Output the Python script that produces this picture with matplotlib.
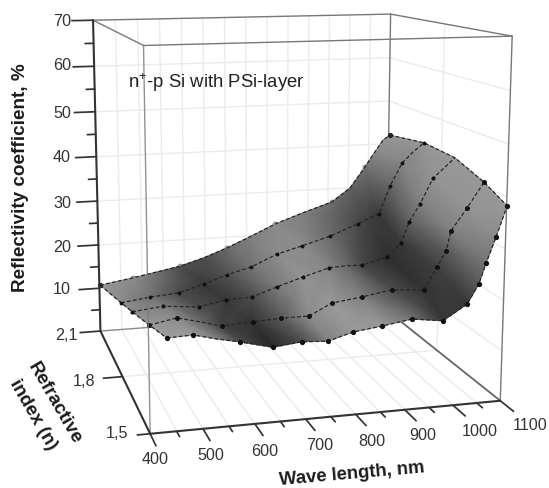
import numpy as np
import matplotlib
matplotlib.use('Agg')
import matplotlib.pyplot as plt

# ---- data -----------------------------------------------------------------
n_rows = [2.1, 1.95, 1.8, 1.65, 1.5]
wave_21 = [402, 479, 535, 590, 647, 703, 761, 819, 888, 960, 1005, 1042, 1056, 1069, 1086, 1103]
refl_21 = [10.7, 11.9, 12.9, 13.9, 15.5, 17.5, 19.9, 22.4, 24.7, 26.9, 30.0, 34.8, 36.8, 38.6, 40.9, 42.0]
wave_195 = [425, 489, 554, 611, 664, 719, 779, 837, 903, 969, 993, 1019, 1045, 1073, 1099, 1125]
refl_195 = [10.9, 11.7, 12.2, 13.8, 15.5, 16.9, 19.4, 20.9, 22.7, 25.1, 26.1, 27.1, 33.3, 38.3, 40.7, 42.6]
wave_18 = [423, 488, 564, 623, 679, 734, 791, 849, 885, 923, 980, 1011, 1029, 1053, 1082, 1131]
refl_18 = [13.5, 14.2, 13.5, 14.6, 14.8, 16.6, 18.3, 19.9, 20.1, 20.0, 21.4, 24.2, 28.7, 32.4, 37.8, 41.9]
wave_165 = [430, 485, 531, 576, 639, 697, 755, 803, 867, 931, 1000, 1028, 1047, 1056, 1090, 1126]
refl_165 = [15.4, 16.4, 15.3, 14.1, 14.5, 14.8, 14.8, 17.1, 17.9, 18.9, 18.4, 23.0, 26.1, 30.1, 34.6, 39.7]
wave_15 = [434, 483, 528, 572, 635, 692, 743, 793, 851, 911, 975, 1024, 1047, 1061, 1080, 1101]
refl_15 = [17.7, 17.9, 16.8, 15.9, 14.4, 15.0, 14.7, 16.1, 16.8, 17.7, 16.9, 19.8, 23.5, 27.5, 32.4, 38.3]
# surface brightness at every point, as seen in the picture
shade_21 = [.60, .55, .45, .30, .30, .42, .50, .55, .50, .42, .38, .45, .50, .55, .58, .60]
shade_195 = [.55, .45, .30, .22, .32, .45, .55, .55, .42, .28, .25, .22, .40, .52, .55, .60]
shade_18 = [.55, .50, .30, .22, .30, .48, .58, .52, .42, .28, .18, .22, .38, .50, .58, .60]
shade_165 = [.60, .55, .42, .25, .20, .35, .55, .60, .50, .30, .20, .25, .35, .50, .58, .60]
shade_15 = [.62, .60, .50, .30, .15, .30, .50, .60, .60, .45, .22, .22, .35, .45, .55, .60]

wave_ticks = [400, 500, 600, 700, 800, 900, 1000, 1100]
refl_ticks = [10, 20, 30, 40, 50, 60, 70]
refl_labels = ['10', '20', '30', '40', '50', '60', '70']
n_ticks = [2.1, 1.8, 1.5]
n_labels = ['2,1', '1,8', '1,5']
annotation = r'n$^{+}$-p Si with PSi-layer'
xlabel = 'Wave length, nm'
zlabel = 'Reflectivity coefficient, %'
ylabel = 'Refractive\nindex (n)'

# ---- perspective camera fitted to the box corners (figure pixels) ---------
W_MIN, W_MAX, N_MIN, N_MAX, Z_MIN, Z_MAX = 400, 1100, 1.5, 2.1, 0, 70
corners = [(400, 2.1, 0, 101, 333), (400, 2.1, 70, 93, 20), (400, 1.5, 0, 150, 432),
           (400, 1.5, 70, 143, 45), (1100, 1.5, 0, 502, 402), (1100, 1.5, 70, 511, 37),
           (1100, 2.1, 0, 384, 308), (1100, 2.1, 70, 392, 14)]


def unit(w, n, z):
    return (np.asarray(w, float) - W_MIN) / (W_MAX - W_MIN), \
           (np.asarray(n, float) - N_MIN) / (N_MAX - N_MIN), \
           (np.asarray(z, float) - Z_MIN) / (Z_MAX - Z_MIN)


rows_eq = []
for w, n, z, px, py in corners:
    X = [*unit(w, n, z), 1.0]
    rows_eq.append(X + [0] * 4 + [-px * a for a in X])
    rows_eq.append([0] * 4 + X + [-py * a for a in X])
CAM = np.linalg.svd(np.array(rows_eq, float))[2][-1].reshape(3, 4)


def proj(w, n, z):
    u, v, s = np.broadcast_arrays(*unit(w, n, z))
    h = CAM @ np.vstack([u.ravel(), v.ravel(), s.ravel(), np.ones(u.size)])
    return (h[0] / h[2]).reshape(u.shape), (h[1] / h[2]).reshape(u.shape)


plt.rcParams['font.family'] = ['Liberation Sans', 'DejaVu Sans']
plt.rcParams['mathtext.fontset'] = 'custom'
plt.rcParams['mathtext.rm'] = 'Liberation Sans'
plt.rcParams['mathtext.default'] = 'regular'

fig = plt.figure(figsize=(5.49, 4.88), dpi=100)
ax = fig.add_axes([0, 0, 1, 1])
ax.set_xlim(0, 549)
ax.set_ylim(488, 0)
ax.axis('off')


def seg(a, b, **kw):
    x, y = proj([a[0], b[0]], [a[1], b[1]], [a[2], b[2]])
    ax.plot(x, y, solid_capstyle='round', **kw)


# ---- wall and floor grids --------------------------------------------------
GRID = dict(color='#ebebeb', lw=1.0, zorder=1)
for w in np.arange(450, 1100, 50):
    seg((w, 2.1, 0), (w, 2.1, 70), **GRID)
    seg((w, 2.1, 0), (w, 1.5, 0), **GRID)
for z in np.arange(10, 70, 10):
    seg((400, 2.1, z), (1100, 2.1, z), **GRID)
    seg((1100, 2.1, z), (1100, 1.5, z), **GRID)
seg((1100, 1.8, 0), (1100, 1.8, 70), **GRID)
seg((400, 1.8, 0), (1100, 1.8, 0), **GRID)

# ---- box ------------------------------------------------------------------
BOX = dict(color='#777777', lw=1.0, zorder=2)
for a, b in [((400, 2.1, 70), (1100, 2.1, 70)), ((400, 1.5, 70), (1100, 1.5, 70)),
             ((400, 2.1, 70), (400, 1.5, 70)), ((1100, 2.1, 70), (1100, 1.5, 70)),
             ((1100, 2.1, 0), (1100, 2.1, 70)), ((1100, 1.5, 0), (1100, 1.5, 70))]:
    seg(a, b, **BOX)
seg((400, 2.1, 0), (1100, 2.1, 0), color='#8a8a8a', lw=1.0, zorder=2)
seg((1100, 2.1, 0), (1100, 1.5, 0), color='#666666', lw=1.3, zorder=2)

# ---- surface --------------------------------------------------------------
WW = np.array([wave_21, wave_195, wave_18, wave_165, wave_15], float)
RR = np.array([refl_21, refl_195, refl_18, refl_165, refl_15], float)
SS = np.array([shade_21, shade_195, shade_18, shade_165, shade_15], float)
NN = np.array(n_rows)[:, None] * np.ones_like(WW)
PX, PY = proj(WW, NN, RR)
ax.pcolormesh(PX, PY, SS, shading='gouraud', cmap='gray', vmin=0, vmax=1, zorder=3, rasterized=True)

DASH = dict(color='#262626', lw=0.9, ls=(0, (3, 1.8)), zorder=4)
for i in range(5):
    ax.plot(PX[i], PY[i], **DASH)
ax.plot(PX[:, 0], PY[:, 0], **DASH)
ax.plot(PX[:, -1], PY[:, -1], **DASH)

# markers; the back row is drawn as small open circles
open_idx = [1, 3, 5, 7, 9, 11]
ax.plot(PX[0, open_idx], PY[0, open_idx], 'o', ms=3.4, mfc='white', mec='#777777', mew=0.7, zorder=2.5)
ax.plot(PX[0, [0, -1]], PY[0, [0, -1]], 'o', ms=2.8, color='#222222', zorder=5)
hidden = {1: [10, 14], 2: [8, 15], 3: [2], 4: [2]}
sizes = {1: 2.8, 2: 3.0, 3: 3.6, 4: 3.8}
for i, ms in sizes.items():
    keep = [j for j in range(PX.shape[1]) if j not in hidden[i]]
    ax.plot(PX[i, keep], PY[i, keep], 'o', ms=ms, color='#111111', mew=0, zorder=5)

# front vertical edge passes in front of the surface
seg((400, 1.5, 0), (400, 1.5, 70), color='#777777', lw=1.0, alpha=.8, zorder=6)

# ---- axes and ticks -------------------------------------------------------
AXIS = dict(color='#333333', lw=1.5, zorder=7)
TK = dict(color='#333333', lw=1.25, zorder=7)
seg((400, 2.1, 0), (400, 2.1, 70), **AXIS)
seg((400, 2.1, 0), (400, 1.5, 0), **AXIS)
seg((400, 1.5, 0), (1100, 1.5, 0), **AXIS)
for z in np.arange(5, 70, 10):
    seg((400, 2.1, z), (381, 2.1, z), **TK)
for z in [0] + refl_ticks:
    seg((400, 2.1, z), (353, 2.1, z), **TK)
seg((400, 1.8, 0), (360, 1.8, 0), **TK)
seg((400, 1.5, 0), (376, 1.5, 0), **TK)
for w in wave_ticks:
    seg((w, 1.5, 0), (w, 1.445, 0), **TK)
for w in np.arange(450, 1100, 100):
    seg((w, 1.5, 0), (w, 1.475, 0), **TK)

# ---- text -----------------------------------------------------------------
TICK = dict(fontsize=11.6, color='#333333', ha='center', va='center', zorder=8)
z_label_y = [290, 247, 203, 158, 113, 66, 21]
for lab, y in zip(refl_labels, z_label_y):
    ax.text(62, y, lab, **TICK)
for lab, (x, y) in zip(n_labels, [(67, 335), (84, 382), (117, 433)]):
    ax.text(x, y, lab, **TICK)
w_label_xy = [(155, 460), (211, 455), (265, 451), (320, 446), (372, 441), (423, 436), (480, 431), (530, 426)]
for w, (x, y) in zip(wave_ticks, w_label_xy):
    ax.text(x, y, str(w), **TICK)

ax.text(128, 83, annotation, fontsize=13.3, color='#222222', ha='left', va='center', zorder=8)
TITLE = dict(fontsize=13.6, fontweight='bold', color='#1c1c1c', ha='center', va='center',
             rotation_mode='anchor', zorder=8)
ax.text(21, 178, zlabel, rotation=90, **TITLE)
ax.text(352, 474, xlabel, rotation=5, fontsize=13.3, fontweight='bold', color='#1c1c1c',
        ha='center', va='center', rotation_mode='anchor', zorder=8)
l1, l2 = ylabel.split('\n')
ax.text(54, 403, l1, rotation=-60, **TITLE)
ax.text(33, 415, l2, rotation=-60, **TITLE)

fig.savefig('out.png', dpi=100)
